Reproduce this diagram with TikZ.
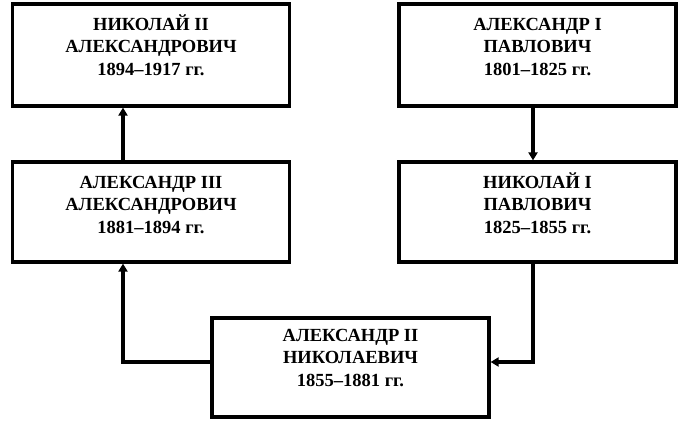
\documentclass[tikz,border=0pt]{standalone}
\usepackage{fontspec}
\setmainfont{Liberation Serif}
\usetikzlibrary{arrows.meta,calc}
\tikzset{
  box/.style={draw, line width=3.2pt, minimum width=277pt, inner sep=0pt},
  txt/.style={align=center, anchor=base, inner sep=0pt, font=\bfseries\fontsize{18.5}{22.5}\selectfont},
  conn/.style={line width=3.2pt},
  arr/.style={conn, -{Triangle[length=8pt,width=9pt]}},
}
\begin{document}
\begin{tikzpicture}[x=1pt,y=1pt]
\useasboundingbox (0,0) rectangle (679,-428);
\node[box, minimum height=102pt] (A) at (151,-55) {};
\node[box, minimum height=100pt] (B) at (151,-212) {};
\node[box, minimum height=102pt] (C) at (537.5,-55) {};
\node[box, minimum height=100pt] (D) at (537.5,-212) {};
\node[box, minimum height=99pt] (E) at (350.5,-367.5) {};
\node[txt] (tA) at ([yshift=-73pt]A.north) {НИКОЛАЙ II\\АЛЕКСАНДРОВИЧ\\1894–1917 гг.};
\node[txt] (tB) at ([yshift=-73pt]B.north) {АЛЕКСАНДР III\\АЛЕКСАНДРОВИЧ\\1881–1894 гг.};
\node[txt] (tC) at ([yshift=-73pt]C.north) {АЛЕКСАНДР I\\ПАВЛОВИЧ\\1801–1825 гг.};
\node[txt] (tD) at ([yshift=-73pt]D.north) {НИКОЛАЙ I\\ПАВЛОВИЧ\\1825–1855 гг.};
\node[txt] (tE) at ([yshift=-70pt]E.north) {АЛЕКСАНДР II\\НИКОЛАЕВИЧ\\1855–1881 гг.};
\draw[arr] ([xshift=-28pt]B.north) -- ([xshift=-28pt]A.south);
\draw[arr] ([xshift=-4.5pt]C.south) -- ([xshift=-4.5pt]D.north);
\draw[arr] ([xshift=-4.5pt]D.south) |- ([yshift=5.5pt]E.east);
\draw[arr] ([yshift=5.5pt]E.west) -| ([xshift=-28pt]B.south);
\end{tikzpicture}
\end{document}
